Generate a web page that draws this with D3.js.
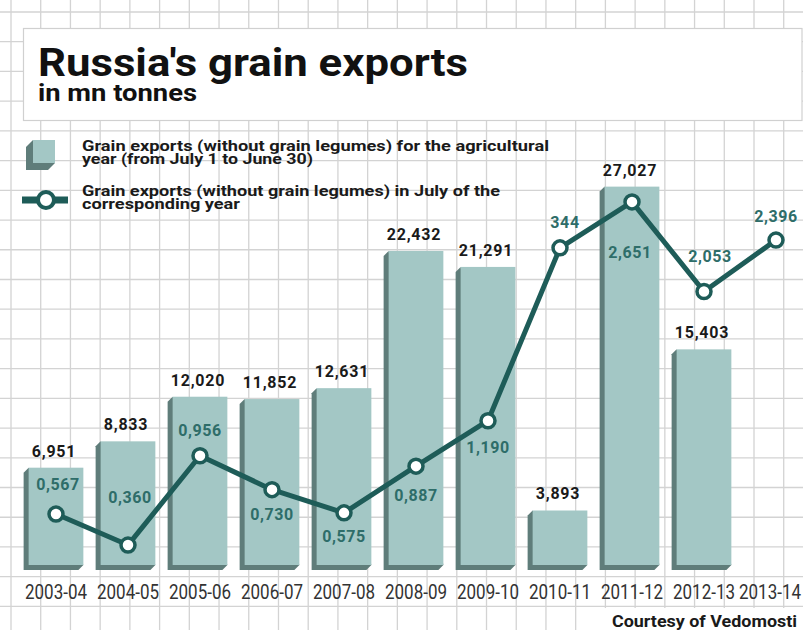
<!DOCTYPE html>
<html>
<head>
<meta charset="utf-8">
<script src="https://cdn.jsdelivr.net/npm/d3@7"></script>
<style>
  body { margin: 0; background: #fff; }
  svg { display: block; font-family: Roboto, "DejaVu Sans", sans-serif; }
</style>
</head>
<body>
<div id="viz_container"></div>
<script>
// data (mn tonnes)
const seasons = ["2003-04", "2004-05", "2005-06", "2006-07", "2007-08", "2008-09",
                 "2009-10", "2010-11", "2011-12", "2012-13", "2013-14"];
const yearExports = [6.951, 8.833, 12.020, 11.852, 12.631, 22.432, 21.291, 3.893, 27.027, 15.403, null];
const julyExports = [0.567, 0.360, 0.956, 0.730, 0.575, 0.887, 1.190, 2.344, 2.651, 2.053, 2.396];
const julyLabels = ["0,567", "0,360", "0,956", "0,730", "0,575", "0,887", "1,190", "344", "2,651", "2,053", "2,396"];

const width = 803, height = 630;
const gridColor = "#d3d3d3";
const barFront = "#a3c7c5", barSide = "#5f7d7a";
const lineColor = "#1e5c58", labelTeal = "#2e6d69";

const svg = d3.select("#viz_container")
    .append("svg")
    .attr("width", width)
    .attr("height", height);

// squared paper background
const gridStep = 29.72;
svg.append("g")
    .selectAll("line")
    .data(d3.range(11, width, gridStep))
    .join("line")
    .attr("x1", d => d).attr("x2", d => d)
    .attr("y1", 0).attr("y2", height)
    .attr("stroke", gridColor).attr("stroke-width", 1.3);
svg.append("g")
    .selectAll("line")
    .data(d3.range(12, height, gridStep))
    .join("line")
    .attr("y1", d => d).attr("y2", d => d)
    .attr("x1", 0).attr("x2", width)
    .attr("stroke", gridColor).attr("stroke-width", 1.3);

// title box
svg.append("rect")
    .attr("x", 23.5).attr("y", 28.5)
    .attr("width", 778.5).attr("height", 92)
    .attr("fill", "#fff")
    .attr("stroke", "#d0d0d0").attr("stroke-width", 1.2);

svg.append("text")
    .attr("x", 38).attr("y", 76)
    .attr("font-size", 39).attr("font-weight", 700)
    .attr("textLength", 430).attr("lengthAdjust", "spacingAndGlyphs")
    .attr("fill", "#111")
    .text("Russia's grain exports");
svg.append("text")
    .attr("x", 38).attr("y", 101)
    .attr("font-size", 23).attr("font-weight", 700)
    .attr("textLength", 159).attr("lengthAdjust", "spacingAndGlyphs")
    .attr("fill", "#111")
    .text("in mn tonnes");

// scales
const xScale = d3.scaleBand()
    .domain(seasons)
    .range([20, 812])
    .paddingInner(0.24)
    .paddingOuter(0.12);
const bw = xScale.bandwidth();
const yBar = d3.scaleLinear().domain([0, 30]).range([565, 145]);
const yLine = d3.scaleLinear().domain([0, 3]).range([599, 149.6]);

// 3d-ish bars
const depth = 5;
const barData = seasons.map((s, i) => ({ season: s, value: yearExports[i] }))
    .filter(d => d.value != null);

const bars = svg.append("g");
bars.selectAll("path")
    .data(barData)
    .join("path")
    .attr("fill", barSide)
    .attr("d", d => {
        const x0 = xScale(d.season), x1 = x0 + bw;
        const y0 = yBar(d.value), y1 = yBar(0);
        return `M${x0},${y0} L${x0 - depth},${y0 + depth} L${x0 - depth},${y1 + depth} ` +
               `L${x1 - depth},${y1 + depth} L${x1},${y1} Z`;
    });
bars.selectAll("rect")
    .data(barData)
    .join("rect")
    .attr("x", d => xScale(d.season))
    .attr("y", d => yBar(d.value))
    .attr("width", bw)
    .attr("height", d => yBar(0) - yBar(d.value))
    .attr("fill", barFront);

const fmt = d3.formatLocale({ decimal: ",", thousands: " ", grouping: [3], currency: ["", ""] }).format(".3f");
bars.selectAll("text")
    .data(barData)
    .join("text")
    .attr("x", d => xScale(d.season) + bw / 2 - 2)
    .attr("y", d => yBar(d.value) - 11)
    .attr("text-anchor", "middle")
    .attr("font-size", 16).attr("font-weight", 700)
    .attr("letter-spacing", 0.8)
    .attr("fill", "#1a1a1a")
    .text(d => fmt(d.value));

// x axis
svg.append("g")
    .attr("transform", `translate(0, ${yBar(0)})`)
    .call(d3.axisBottom(xScale).tickSize(0).tickPadding(20))
    .call(g => g.select(".domain").remove())
    .call(g => g.selectAll("text")
        .attr("font-family", "Roboto, sans-serif")
        .attr("font-size", 20)
        .attr("fill", "#333")
        .attr("textLength", 62)
        .attr("lengthAdjust", "spacingAndGlyphs"))
    // last label sits against the right edge, as in the original
    .call(g => g.selectAll(".tick:last-of-type text").attr("dx", -6));

// July line
const lineData = seasons.map((s, i) => ({ season: s, value: julyExports[i], label: julyLabels[i] }));
const cx = d => xScale(d.season) + bw / 2;

svg.append("path")
    .datum(lineData)
    .attr("fill", "none")
    .attr("stroke", lineColor)
    .attr("stroke-width", 5)
    .attr("stroke-linejoin", "round")
    .attr("d", d3.line().x(cx).y(d => yLine(d.value)));

svg.append("g")
    .selectAll("circle")
    .data(lineData)
    .join("circle")
    .attr("cx", cx)
    .attr("cy", d => yLine(d.value))
    .attr("r", 7)
    .attr("fill", "#fff")
    .attr("stroke", lineColor)
    .attr("stroke-width", 3.5);

// label placement around each point (centre offsets)
const labelDy = [-30, -48, -26, 24, 23, 29, 26, -26, 50, -35, -24];
const labelDx = [2, 2, 0, 0, 0, 0, 0, 5, -2, 6, 0];
svg.append("g")
    .selectAll("text")
    .data(lineData)
    .join("text")
    .attr("x", (d, i) => cx(d) + labelDx[i])
    .attr("y", (d, i) => yLine(d.value) + labelDy[i] + 6)
    .attr("text-anchor", "middle")
    .attr("font-size", 16).attr("font-weight", 700)
    .attr("letter-spacing", 0.6)
    .attr("fill", labelTeal)
    .text(d => d.label);

// legend
const legend = svg.append("g");
legend.append("path")
    .attr("fill", barSide)
    .attr("d", "M33,140 L26,147 L26,170 L48,170 L55,163 L55,140 Z");
legend.append("rect")
    .attr("x", 33).attr("y", 140).attr("width", 22).attr("height", 23)
    .attr("fill", barFront);
legend.append("line")
    .attr("x1", 22).attr("x2", 68).attr("y1", 200).attr("y2", 200)
    .attr("stroke", lineColor).attr("stroke-width", 7);
legend.append("circle")
    .attr("cx", 46).attr("cy", 200).attr("r", 8)
    .attr("fill", "#fff").attr("stroke", lineColor).attr("stroke-width", 4);

const legendLines = [
    { text: "Grain exports (without grain legumes) for the agricultural", y: 151, w: 467 },
    { text: "year (from July 1 to June 30)", y: 164, w: 231 },
    { text: "Grain exports (without grain legumes) in July of the", y: 196, w: 418 },
    { text: "corresponding year", y: 209, w: 158 }
];
legend.selectAll("text")
    .data(legendLines)
    .join("text")
    .attr("x", 82)
    .attr("y", d => d.y)
    .attr("font-size", 14).attr("font-weight", 700)
    .attr("fill", "#1a1a1a")
    .attr("textLength", d => d.w)
    .attr("lengthAdjust", "spacingAndGlyphs")
    .text(d => d.text);

// source
svg.append("rect")
    .attr("x", 604).attr("y", 608).attr("width", 199).attr("height", 22)
    .attr("fill", "#fff");
svg.append("text")
    .attr("x", 612).attr("y", 627)
    .attr("font-size", 16).attr("font-weight", 700)
    .attr("fill", "#1a1a1a")
    .attr("textLength", 185).attr("lengthAdjust", "spacingAndGlyphs")
    .text("Courtesy of Vedomosti");
</script>
</body>
</html>
